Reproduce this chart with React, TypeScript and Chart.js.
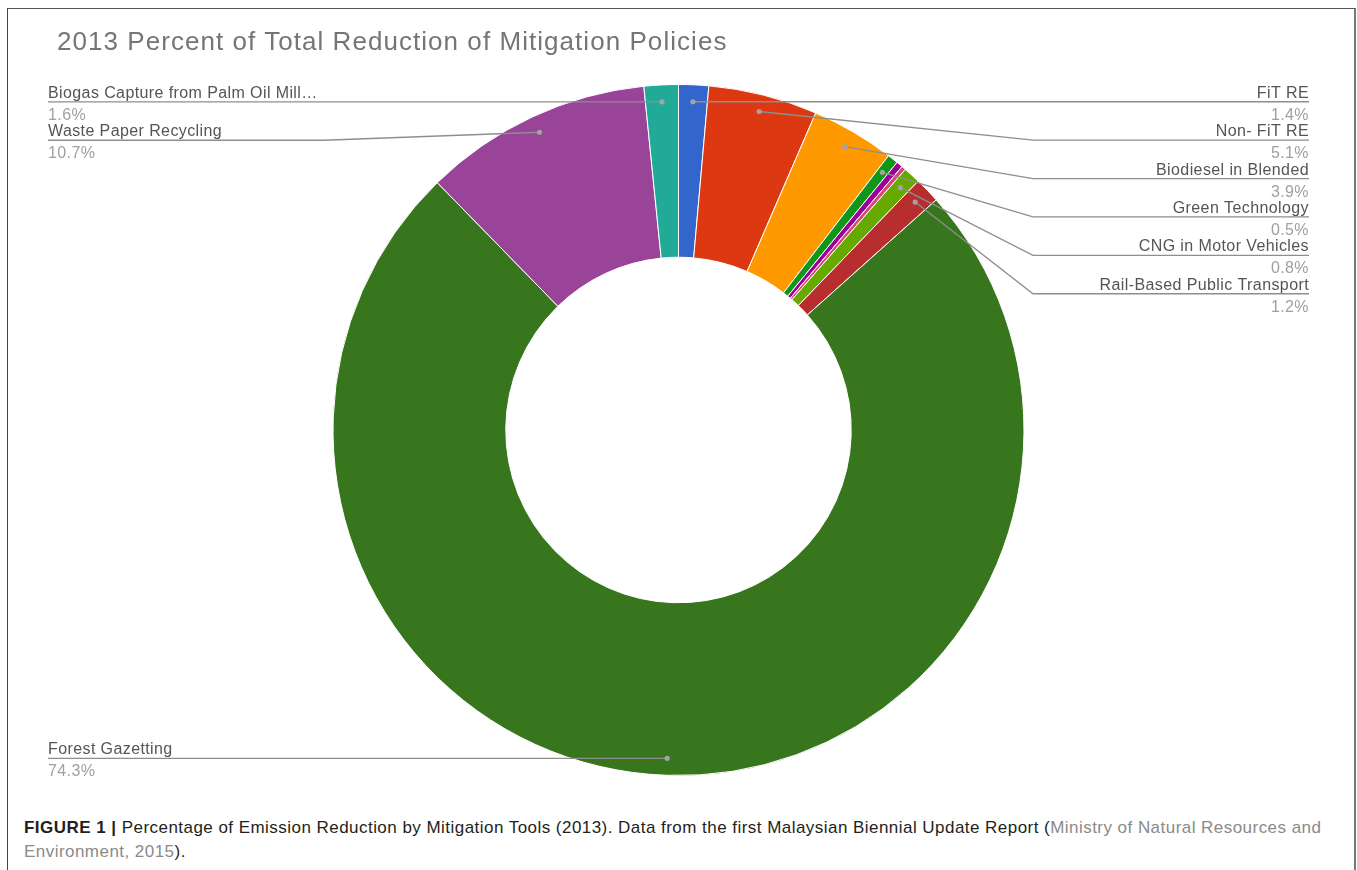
import React, { useEffect, useRef } from "react";
import { Chart, registerables } from "chart.js";

Chart.register(...registerables);

const chartTitle = "2013 Percent of Total Reduction of Mitigation Policies";

const categories = [
  "FiT RE",
  "Non- FiT RE",
  "Biodiesel in Blended",
  "Green Technology",
  "Unlabelled policy A",
  "Unlabelled policy B",
  "CNG in Motor Vehicles",
  "Rail-Based Public Transport",
  "Forest Gazetting",
  "Waste Paper Recycling",
  "Biogas Capture from Palm Oil Mill…",
];

const shares = [1.4, 5.1, 3.9, 0.5, 0.3, 0.2, 0.8, 1.2, 74.3, 10.7, 1.6];

const sliceColors = [
  "#3366cc",
  "#dc3912",
  "#ff9900",
  "#109618",
  "#990099",
  "#dd4477",
  "#66aa00",
  "#b82e2e",
  "#38761d",
  "#994499",
  "#22aa99",
];

const FONT = '"Liberation Sans", Arial, Helvetica, sans-serif';

const sideLabelsPlugin = {
  id: "sideLabels",
  afterDraw(chart: any) {
    const ctx = chart.ctx as CanvasRenderingContext2D;
    const meta = chart.getDatasetMeta(0);
    const W = chart.width;
    const margin = 48;
    const underlineLen = 276;
    const spacing = 38.4;
    type Item = { i: number; dx: number; dy: number; right: boolean; ly: number };
    const items: Item[] = [];
    meta.data.forEach((arc: any, i: number) => {
      if (shares[i] < 0.5) return;
      const p = arc.getProps(["x", "y", "startAngle", "endAngle", "outerRadius"], true);
      const mid = (p.startAngle + p.endAngle) / 2;
      const r = p.outerRadius * 0.951;
      const dx = p.x + r * Math.cos(mid);
      const dy = p.y + r * Math.sin(mid);
      items.push({ i, dx, dy, right: dx >= p.x, ly: dy });
    });
    [true, false].forEach((side) => {
      const list = items.filter((o) => o.right === side).sort((a, b) => a.dy - b.dy);
      let prev = -Infinity;
      list.forEach((o) => {
        o.ly = Math.max(o.dy, prev + spacing);
        prev = o.ly;
      });
    });
    ctx.save();
    items.forEach((o) => {
      const textEdge = o.right ? W - margin : margin;
      const elbow = o.right ? textEdge - underlineLen : textEdge + underlineLen;
      ctx.strokeStyle = "#8e8e8e";
      ctx.lineWidth = 1.3;
      ctx.beginPath();
      ctx.moveTo(o.dx, o.dy);
      if (Math.abs(o.ly - o.dy) > 0.5) ctx.lineTo(elbow, o.ly);
      else ctx.lineTo(elbow, o.dy);
      ctx.lineTo(textEdge, o.ly);
      ctx.stroke();
      ctx.fillStyle = "#a3a3a3";
      ctx.beginPath();
      ctx.arc(o.dx, o.dy, 2.6, 0, Math.PI * 2);
      ctx.fill();
      ctx.font = `16px ${FONT}`;
      (ctx as any).letterSpacing = "0.4px";
      ctx.textAlign = o.right ? "right" : "left";
      ctx.textBaseline = "alphabetic";
      ctx.fillStyle = "#555555";
      ctx.fillText(categories[o.i], textEdge, o.ly - 4);
      ctx.fillStyle = "#a0a0a0";
      ctx.fillText(shares[o.i].toFixed(1) + "%", textEdge, o.ly + 18);
    });
    ctx.restore();
  },
};

function DoughnutChart() {
  const ref = useRef<HTMLCanvasElement | null>(null);
  useEffect(() => {
    if (!ref.current) return;
    const chart = new Chart(ref.current, {
      type: "doughnut",
      data: {
        labels: categories,
        datasets: [
          {
            data: shares,
            backgroundColor: sliceColors,
            borderColor: "#ffffff",
            borderWidth: 1,
          },
        ],
      },
      options: {
        animation: false,
        responsive: false,
        devicePixelRatio: 1,
        cutout: "50%",
        events: [],
        layout: { padding: { top: 84, bottom: 24, left: 0, right: 0 } },
        plugins: {
          legend: { display: false },
          tooltip: { enabled: false },
          title: { display: false },
        },
      },
      plugins: [sideLabelsPlugin],
    });
    return () => chart.destroy();
  }, []);
  return (
    <canvas
      ref={ref}
      width={1357}
      height={800}
      style={{ position: "absolute", left: 0, top: 0, width: 1357, height: 800 }}
    />
  );
}

export default function App() {
  return (
    <div
      style={{
        position: "fixed",
        left: 0,
        top: 0,
        width: 1357,
        height: 870,
        background: "#ffffff",
        overflow: "hidden",
      }}
    >
      <div
        style={{
          position: "absolute",
          left: 7,
          top: 8,
          width: 1346,
          height: 900,
          borderLeft: "1px solid #444",
          borderTop: "1px solid #555",
          borderRight: "2px solid #777",
        }}
      />
      <DoughnutChart />
      <div
        style={{
          position: "absolute",
          left: 57,
          top: 28,
          font: `26px ${FONT}`,
          lineHeight: "26px",
          letterSpacing: "1.05px",
          color: "#757575",
          whiteSpace: "nowrap",
        }}
      >
        {chartTitle}
      </div>
      <div
        style={{
          position: "absolute",
          left: 24,
          top: 816,
          font: `17px ${FONT}`,
          lineHeight: "24px",
          letterSpacing: "0.46px",
          color: "#231f20",
          whiteSpace: "nowrap",
        }}
      >
        <b>FIGURE 1 |</b> Percentage of Emission Reduction by Mitigation Tools (2013). Data from
        the first Malaysian Biennial Update Report (
        <span style={{ color: "#8a8a8a" }}>
          Ministry of Natural Resources and
          <br />
          Environment, 2015
        </span>
        ).
      </div>
    </div>
  );
}
